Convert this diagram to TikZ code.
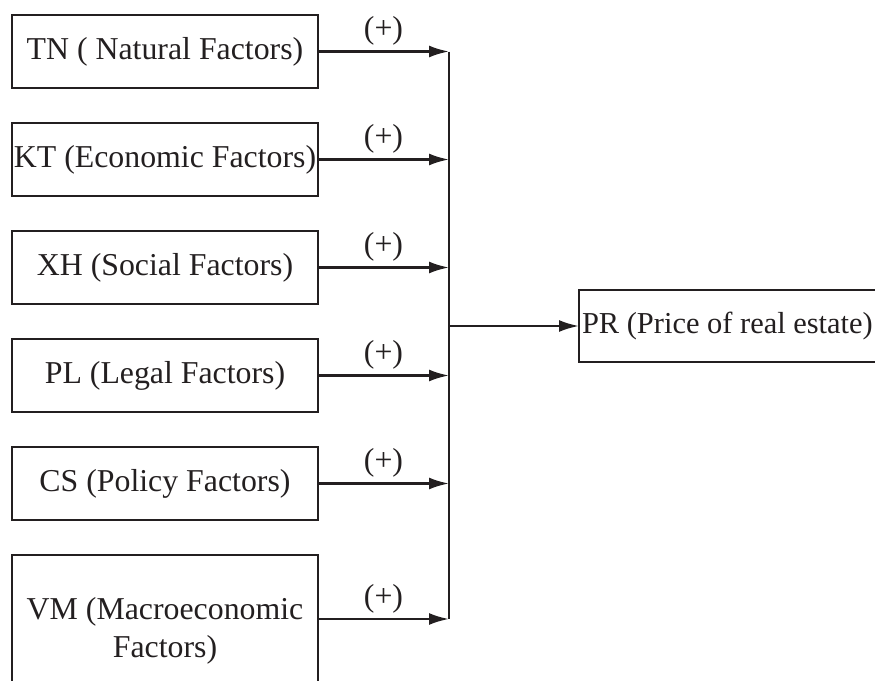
\documentclass[tikz,border=0pt]{standalone}
\usepackage{fontspec}
\setmainfont{Liberation Serif}
\usepackage{tikz}
\usetikzlibrary{arrows.meta, positioning}
\usepackage{xcolor}
\definecolor{InkBlack}{HTML}{231F20}
\tikzset{%
  factor_block/.style={%
    rectangle,%
    draw=InkBlack,%
    line width=0.025in,%
    minimum width=3.06in,%
    minimum height=0.73in,%
    inner sep=0pt,%
    outer sep=0pt,%
    text=InkBlack,%
    font={\fontsize{23}{27.4}\selectfont},%
    align=center%
  },
  result_block/.style={%
    rectangle,%
    draw=InkBlack,%
    line width=0.025in,%
    minimum height=0.72in,%
    inner xsep=0.03in,%
    inner ysep=0pt,%
    outer sep=0pt,%
    text=InkBlack,%
    font={\fontsize{22}{26}\selectfont},%
    anchor=west%
  },
  bus_path/.style={%
    color=InkBlack,%
    line width=0.025in,%
    line join=miter%
  },
  sign_annotate/.style={%
    text=InkBlack,%
    font={\fontsize{23}{27.4}\selectfont},%
    above%
  },
  arrow/.style={-{Latex[length=0.2in, width=0.12in]}},
}

\begin{document}
\begin{tikzpicture}[x=1in, y=1in]

    \useasboundingbox (0, 0) rectangle (8.75, -6.81);
    \clip (0, 0) rectangle (8.75, -6.81);

    \node [factor_block] (TN) at (1.65, -0.515) {TN ( Natural Factors)};
    \node [factor_block, below = 0.35 of TN] (KT) {KT (Economic Factors)};
    \node [factor_block, below = 0.35 of KT] (XH) {XH (Social Factors)};
    \node [factor_block, below = 0.35 of XH] (PL) {PL (Legal Factors)};
    \node [factor_block, below = 0.35 of PL] (CS) {CS (Policy Factors)};
    \node [factor_block, minimum height=1.52in, below = 0.35 of CS] (VM)
      {VM (Macroeconomic\\Factors)};
    \node [result_block] (PR) at (5.79, -3.26) {PR (Price of real estate)};

    \coordinate (bus) at (4.49, 0);
    \coordinate (VM_out) at ([yshift=-0.64in] VM.north east);

    \draw [bus_path]
      (TN.east -| bus)
      --
      (VM_out -| bus);
    \draw [arrow, bus_path]
      (TN.east) -- (TN.east -| bus) node [sign_annotate, midway] {(+)};
    \draw [arrow, bus_path]
      (KT.east) -- (KT.east -| bus) node [sign_annotate, midway] {(+)};
    \draw [arrow, bus_path]
      (XH.east) -- (XH.east -| bus) node [sign_annotate, midway] {(+)};
    \draw [arrow, bus_path]
      (PL.east) -- (PL.east -| bus) node [sign_annotate, midway] {(+)};
    \draw [arrow, bus_path]
      (CS.east) -- (CS.east -| bus) node [sign_annotate, midway] {(+)};
    \draw [arrow, bus_path]
      (VM_out) -- (VM_out -| bus) node [sign_annotate, midway] {(+)};
    \draw [arrow, bus_path]
      (PR.west -| bus)
      --
      (PR.west);
  \end{tikzpicture}
\end{document}
